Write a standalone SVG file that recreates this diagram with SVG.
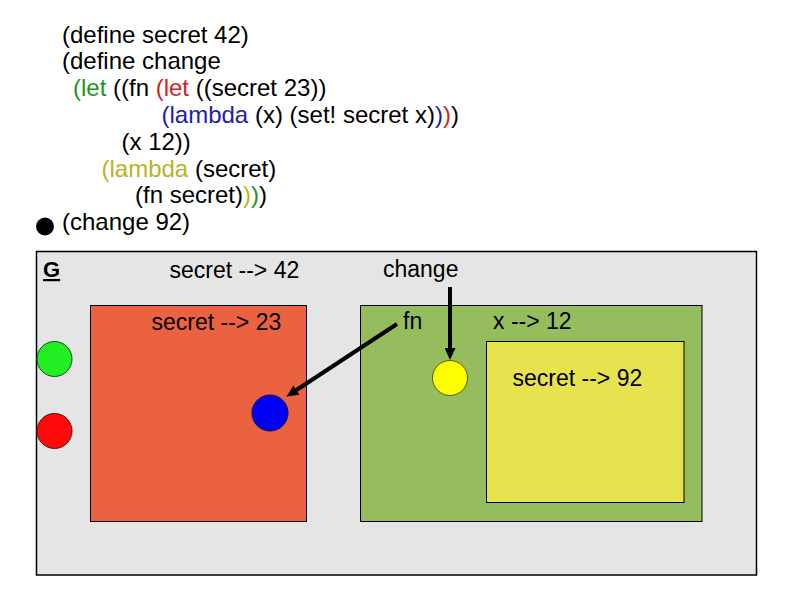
<svg xmlns="http://www.w3.org/2000/svg" width="794" height="595" viewBox="0 0 794 595">
<style>
.code{font-family:"Liberation Sans",Arial,sans-serif;font-size:24px;fill:#000}
.lbl{font-family:"Liberation Sans",Arial,sans-serif;font-size:23px;fill:#000}
.g{fill:#1f9420}.r{fill:#c8262a}.b{fill:#1c22a6}.y{fill:#b8b426}
.conn{stroke:#000;stroke-width:4;fill:none}
</style>
<defs>
<marker id="ah" markerUnits="userSpaceOnUse" markerWidth="12" markerHeight="11" refX="0" refY="5.5" orient="auto">
<path d="M0,0 L12,5.5 L0,11 z" fill="#000"/>
</marker>
</defs>
<rect width="794" height="595" fill="#fff"/>
<g id="code">
<text class="code" x="62" y="42.5">(define secret 42)</text>
<text class="code" x="62" y="69.3">(define change</text>
<text class="code" x="73" y="96.1"><tspan class="g">(let</tspan> ((fn <tspan class="r">(let</tspan> ((secret 23))</text>
<text class="code" x="161.5" y="122.9"><tspan class="b">(lambda</tspan> (x) (set! secret x)<tspan class="b">)</tspan><tspan class="r">)</tspan>)</text>
<text class="code" x="121.5" y="149.7">(x 12))</text>
<text class="code" x="101.5" y="176.5"><tspan class="y">(lambda</tspan> (secret)</text>
<text class="code" x="135" y="203.3">(fn secret)<tspan class="y">)</tspan><tspan class="g">)</tspan>)</text>
<text class="code" x="62" y="230.1">(change 92)</text>
<circle cx="45" cy="226.5" r="9" fill="#000"/>
</g>
<g id="G">
<rect x="36.5" y="251.5" width="720" height="323.5" fill="#e5e5e5" stroke="#000" stroke-width="1.5"/>
<text x="43" y="277" font-family="Liberation Sans,Arial,sans-serif" font-size="22" font-weight="bold" text-decoration="underline">G</text>
<text class="lbl" x="169.5" y="278">secret --&gt; 42</text>
<text class="lbl" x="383" y="277">change</text>
</g>
<g id="greenproc">
<circle cx="54.5" cy="359" r="17.5" fill="#22ee22" stroke="#1a4a1a" stroke-width="1"/>
</g>
<g id="redproc">
<circle cx="54.5" cy="431" r="17.5" fill="#ff0a0a" stroke="#5a1010" stroke-width="1"/>
</g>
<g id="frame23">
<rect x="90.5" y="305.5" width="216" height="216" fill="#ea6240" stroke="#000" stroke-width="1"/>
<text class="lbl" x="151.5" y="330">secret --&gt; 23</text>
<circle cx="270" cy="413" r="18" fill="#0000f5" stroke="#101050" stroke-width="1"/>
</g>
<g id="frameFn">
<rect x="360.5" y="305.5" width="341.5" height="216" fill="#95bd5e" stroke="#000" stroke-width="1"/>
<text class="lbl" x="403" y="329">fn</text>
<text class="lbl" x="493" y="329">x --&gt; 12</text>
<circle cx="450" cy="378" r="17.5" fill="#ffff00" stroke="#5a5a10" stroke-width="1"/>
</g>
<g id="frame92">
<rect x="486.5" y="341.5" width="197.5" height="161" fill="#e6e34e" stroke="#000" stroke-width="1"/>
<text class="lbl" x="512.5" y="386">secret --&gt; 92</text>
</g>
<g id="connectors">
<line class="conn" x1="397" y1="324" x2="296.5" y2="390" marker-end="url(#ah)"/>
<line class="conn" x1="450" y1="287" x2="450" y2="348" marker-end="url(#ah)"/>
</g>
</svg>
